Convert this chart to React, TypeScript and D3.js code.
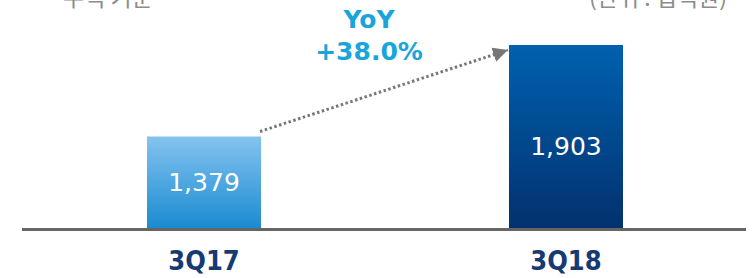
import * as d3 from 'd3';
import React from 'react';

const categories = ['3Q17', '3Q18'];
const values = [1379, 1903];
const valueLabels = ['1,379', '1,903'];
const yoyLabel = ['YoY', '+38.0%'];
const noteLeft = '누적 기준';
const noteRight = '(단위 : 십억원)';

const W = 756;
const H = 278;
const baseY = 228;

export default function App() {
  const x = d3.scaleBand().domain(categories).range([147, 623]).paddingInner(0.685).paddingOuter(0);
  // axis does not start at zero in the source slide
  const y = d3.scaleLinear().domain([855, 1903]).range([baseY, 45]);
  const grads = [
    ['#84c3ef', '#1b8bd1'],
    ['#0061b0', '#03316e'],
  ];
  const x0 = x(categories[0])! + x.bandwidth();
  const x1 = x(categories[1])!;
  const font = '"DejaVu Sans", Verdana, sans-serif';
  const kr = '"Noto Sans CJK KR", sans-serif';

  return (
    <svg width={W} height={H} style={{ position: 'absolute', left: 0, top: 0 }}>
      <defs>
        {grads.map((g, i) => (
          <linearGradient key={i} id={`g${i}`} x1="0" y1="0" x2="0" y2="1">
            <stop offset="0%" stopColor={g[0]} />
            <stop offset="100%" stopColor={g[1]} />
          </linearGradient>
        ))}
        <marker id="arr" viewBox="0 0 10 10" refX="10" refY="5" markerWidth="5" markerHeight="5" orient="auto">
          <path d="M0,0 L10,5 L0,10 z" fill="#777" />
        </marker>
      </defs>
      <text x={108} y={6} textAnchor="middle" fontFamily={kr} fontSize={23} fill="#8c8c8c">
        {noteLeft}
      </text>
      <text x={658} y={6} textAnchor="middle" fontFamily={kr} fontSize={23} fill="#8c8c8c">
        {noteRight}
      </text>
      {categories.map((c, i) => (
        <g key={c}>
          <rect
            x={x(c)}
            y={y(values[i])}
            width={x.bandwidth()}
            height={baseY - y(values[i])}
            fill={`url(#g${i})`}
          />
          <text
            x={x(c)! + x.bandwidth() / 2}
            y={y(values[i]) + (baseY - y(values[i])) * 0.6}
            textAnchor="middle"
            fontFamily={font}
            fontSize={25}
            fill="#fff"
          >
            {valueLabels[i]}
          </text>
          <text
            x={x(c)! + x.bandwidth() / 2}
            y={270}
            textAnchor="middle"
            fontFamily='"DejaVu Sans Condensed", "DejaVu Sans", sans-serif'
            fontWeight="bold"
            fontSize={27}
            fill="#163a72"
          >
            {c}
          </text>
        </g>
      ))}
      <line x1={22} x2={746} y1={baseY + 1.5} y2={baseY + 1.5} stroke="#666" strokeWidth={3} />
      <line
        x1={x0 - 1}
        y1={y(values[0]) - 5}
        x2={x1 - 1}
        y2={y(values[1]) + 5}
        stroke="#777"
        strokeWidth={3}
        strokeDasharray="2.5 2.5"
        markerEnd="url(#arr)"
      />
      <text x={369} y={28} textAnchor="middle" fontFamily={font} fontWeight="bold" fontSize={25} fill="#19a5dc">
        {yoyLabel[0]}
      </text>
      <text x={369} y={60} textAnchor="middle" fontFamily={font} fontWeight="bold" fontSize={25} fill="#19a5dc">
        {yoyLabel[1]}
      </text>
    </svg>
  );
}
